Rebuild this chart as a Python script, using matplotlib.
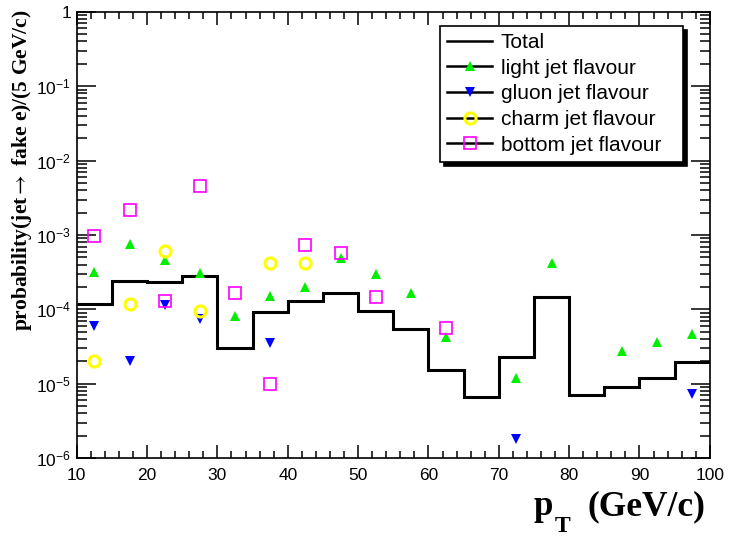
import numpy as np
import matplotlib.pyplot as plt
from matplotlib.lines import Line2D
from matplotlib.ticker import FixedLocator, FixedFormatter, MultipleLocator, LogLocator, NullFormatter

plt.rcParams['font.family'] = ['Liberation Sans', 'DejaVu Sans']
plt.rcParams['mathtext.fontset'] = 'custom'
plt.rcParams['mathtext.rm'] = 'Liberation Sans'
plt.rcParams['mathtext.it'] = 'Liberation Sans:italic'
plt.rcParams['mathtext.bf'] = 'Liberation Sans:bold'

# Data
bin_edges = list(range(10, 105, 5))
total = [1.17e-4, 2.43e-4, 2.34e-4, 2.82e-4, 3.02e-5, 9.3e-5, 1.30e-4, 1.65e-4, 9.6e-5,
         5.5e-5, 1.53e-5, 6.6e-6, 2.31e-5, 1.46e-4, 7.0e-6, 9.1e-6, 1.19e-5, 1.98e-5]

light_x = [12.5, 17.5, 22.5, 27.5, 32.5, 37.5, 42.5, 47.5, 52.5, 57.5, 62.5, 72.5, 77.5, 87.5, 92.5, 97.5]
light_y = [3.2e-4, 7.6e-4, 4.6e-4, 3.1e-4, 8.1e-5, 1.53e-4, 2.0e-4, 4.9e-4, 3.0e-4, 1.68e-4, 4.2e-5,
           1.18e-5, 4.25e-4, 2.73e-5, 3.67e-5, 4.6e-5]

gluon_x = [12.5, 17.5, 22.5, 27.5, 37.5, 72.5, 97.5]
gluon_y = [6.0e-5, 2.0e-5, 1.15e-4, 7.4e-5, 3.5e-5, 1.82e-6, 7.3e-6]

charm_x = [12.5, 17.5, 22.5, 27.5, 37.5, 42.5]
charm_y = [2.0e-5, 1.17e-4, 6.1e-4, 9.5e-5, 4.17e-4, 4.17e-4]

bottom_x = [12.5, 17.5, 22.5, 27.5, 32.5, 37.5, 42.5, 47.5, 52.5, 62.5]
bottom_y = [9.8e-4, 2.16e-3, 1.31e-4, 4.5e-3, 1.65e-4, 1.0e-5, 7.4e-4, 5.7e-4, 1.46e-4, 5.7e-5]

y_ticks = [1e-6, 1e-5, 1e-4, 1e-3, 1e-2, 1e-1, 1]
y_tick_labels = ['$10^{-6}$', '$10^{-5}$', '$10^{-4}$', '$10^{-3}$', '$10^{-2}$', '$10^{-1}$', '1']


def main():
    W, H = 731, 539
    fig = plt.figure(figsize=(W / 100, H / 100), dpi=100)
    ax = fig.add_axes([0.105, 0.150, 0.866, 0.828])

    # Total histogram
    ax.stairs(total, bin_edges, color='black', linewidth=2.2, baseline=None)

    # flavour points
    ax.plot(light_x, light_y, linestyle='none', marker='^', markersize=7.5,
            color='#00ee00', markeredgewidth=0)
    ax.plot(gluon_x, gluon_y, linestyle='none', marker='v', markersize=7.5,
            color='blue', markeredgewidth=0)
    ax.plot(charm_x, charm_y, linestyle='none', marker='o', markersize=8,
            markerfacecolor='none', markeredgecolor='#ffff00', markeredgewidth=2.2)
    ax.plot(bottom_x, bottom_y, linestyle='none', marker='s', markersize=9,
            markerfacecolor='none', markeredgecolor='#ff00ff', markeredgewidth=1.2)

    ax.set_xlim(10, 100)
    ax.set_yscale('log')
    ax.set_ylim(1e-6, 1)

    # ticks, ROOT style
    ax.xaxis.set_major_locator(MultipleLocator(10))
    ax.xaxis.set_minor_locator(MultipleLocator(2))
    ax.yaxis.set_major_locator(FixedLocator(y_ticks))
    ax.yaxis.set_major_formatter(FixedFormatter(y_tick_labels))
    ax.yaxis.set_minor_locator(LogLocator(base=10, subs=np.arange(2, 10)))
    ax.yaxis.set_minor_formatter(NullFormatter())
    ax.tick_params(which='both', direction='in', top=True, right=True, width=1.1)
    ax.tick_params(axis='x', which='major', length=9.5, labelsize=12.5, pad=7)
    ax.tick_params(axis='x', which='minor', length=5)
    ax.tick_params(axis='y', which='major', length=14, labelsize=12.5, pad=4)
    ax.tick_params(axis='y', which='minor', length=7)
    for s in ax.spines.values():
        s.set_linewidth(1.2)

    # x axis title: p_T (GeV/c), ROOT style, right aligned
    serif = dict(fontweight='bold', family='Liberation Serif')
    fig.text(705 / W, 1 - 515 / H, '(GeV/c)', ha='right', va='baseline', fontsize=25.5, **serif)
    fig.text(534 / W, 1 - 515 / H, 'p', ha='left', va='baseline', fontsize=25, **serif)
    fig.text(555 / W, 1 - 532 / H, 'T', ha='left', va='baseline', fontsize=17, **serif)

    # y axis title
    fig.text(22 / W, 1 - 9 / H, r'probability(jet$\rightarrow$ fake e)/(5 GeV/c)', rotation=90,
             ha='center', va='top', fontsize=15.5, math_fontfamily='stix', **serif)

    # legend
    handles = [
        Line2D([], [], color='black', linewidth=1.8),
        Line2D([], [], color='black', linewidth=1.8, marker='^', markersize=7,
               markerfacecolor='#00ee00', markeredgewidth=0),
        Line2D([], [], color='black', linewidth=1.8, marker='v', markersize=7,
               markerfacecolor='blue', markeredgewidth=0),
        Line2D([], [], color='black', linewidth=1.8, marker='o', markersize=8,
               markerfacecolor='none', markeredgecolor='#ffff00', markeredgewidth=2.2),
        Line2D([], [], color='black', linewidth=1.8, marker='s', markersize=9,
               markerfacecolor='none', markeredgecolor='#ff00ff', markeredgewidth=1.2),
    ]
    labels = ['Total', 'light jet flavour', 'gluon jet flavour', 'charm jet flavour', 'bottom jet flavour']
    leg = ax.legend(handles, labels, loc='upper left', bbox_to_anchor=(0.574, 0.5, 0.383, 0.469),
                    mode='expand', fontsize=15, frameon=True, fancybox=False, borderpad=0.35,
                    labelspacing=0.32, handlelength=2.15, handletextpad=0.4,
                    borderaxespad=0, shadow={'color': 'black', 'alpha': 1, 'ox': 3, 'oy': -3})
    leg.get_frame().set_edgecolor('black')
    leg.get_frame().set_linewidth(1.2)
    leg.get_frame().set_alpha(1)

    fig.savefig('out.png', dpi=100)


if __name__ == "__main__":
    main()
